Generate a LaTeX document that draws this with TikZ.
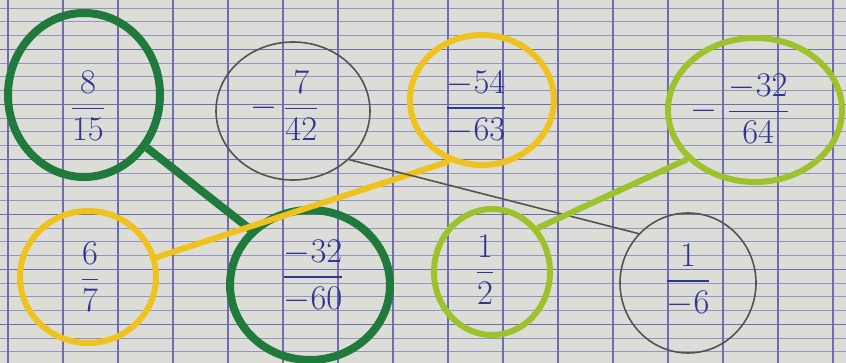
\documentclass[tikz,border=0pt]{standalone}
\usepackage{amsmath}
\usepackage{tikz}
\usetikzlibrary{shapes.geometric}
\definecolor{fpaper}{HTML}{DDDDD8}
\definecolor{fgrid}{HTML}{9593C2}
\definecolor{fgridb}{HTML}{6F6DB0}
\definecolor{fink}{HTML}{2F3592}
\definecolor{fdkgreen}{HTML}{1F7A3C}
\definecolor{fyellow}{HTML}{EFC21E}
\definecolor{fltgreen}{HTML}{9CC22C}
\definecolor{fgray}{HTML}{55524F}

\begin{document}
\begin{tikzpicture}[x=0.5pt,y=-0.5pt,
  ring/.style={draw=#1,ellipse,inner sep=0pt},
  frac/.style={text=fink,inner sep=0pt,font=\fontsize{19}{23}\selectfont}]
  \useasboundingbox[fill=fpaper] (0,0) rectangle (846,363);
  % paper ruling
  \foreach \k in {0,...,25}{\draw[fgrid,line width=0.35pt] (0,8+13.75*\k) -- (846,8+13.75*\k);}
  \foreach \y in {49.25,104.25,...,330}{\draw[fgridb,line width=0.55pt] (0,\y) -- (846,\y);}
  \foreach \x in {8,63,...,840}{\draw[fgridb,line width=0.7pt] (\x,0) -- (\x,363);}
  % top row
  \node[ring=fdkgreen,line width=4pt,minimum width=76pt,minimum height=82pt] (a) at (84,95) {};
  \node[ring=fgray,line width=0.8pt,minimum width=77pt,minimum height=69pt] (b) at (293,111) {};
  \node[ring=fyellow,line width=3pt,minimum width=72pt,minimum height=65pt] (c) at (482,100) {};
  \node[ring=fltgreen,line width=3pt,minimum width=87pt,minimum height=72pt] (d) at (755,110) {};
  % bottom row
  \node[ring=fyellow,line width=3pt,minimum width=68pt,minimum height=66pt] (e) at (88,277) {};
  \node[ring=fdkgreen,line width=4pt,minimum width=80pt,minimum height=75pt] (f) at (310,285) {};
  \node[ring=fltgreen,line width=3pt,minimum width=58pt,minimum height=63pt] (g) at (492,272) {};
  \node[ring=fgray,line width=0.8pt,minimum width=68pt,minimum height=70pt] (h) at (688,283) {};
  % fractions
  \node[frac] (a-t) at (88,106) {$\dfrac{8}{15}$};
  \node[frac] (b-t) at (285,106) {$-\,\dfrac{7}{42}$};
  \node[frac] (c-t) at (476,107) {$\dfrac{-54}{-63}$};
  \node[frac] (d-t) at (740,109) {$-\;\dfrac{-32}{64}$};
  \node[frac] (e-t) at (90,277) {$\dfrac{6}{7}$};
  \node[frac] (f-t) at (313,276) {$\dfrac{-32}{-60}$};
  \node[frac] (g-t) at (485,270) {$\dfrac{1}{2}$};
  \node[frac] (h-t) at (688,280) {$\dfrac{1}{-6}$};
  % pairs
  \draw[fdkgreen,line width=4pt] (a.-40) -- (f.137);
  \draw[fyellow,line width=3pt] (c.-118) -- (e.16);
  \draw[fgray,line width=0.8pt] (b.-41) -- (h.135);
  \draw[fltgreen,line width=3pt] (d.-144) -- (g.44);
\end{tikzpicture}
\end{document}
